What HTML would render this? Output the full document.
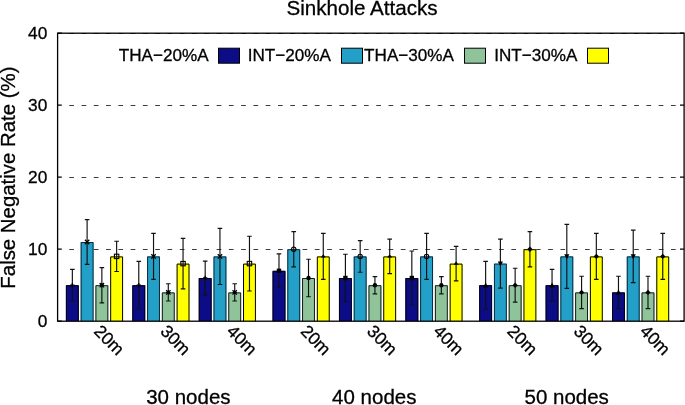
<!DOCTYPE html><html><head><meta charset="utf-8"><style>html,body{margin:0;padding:0;background:#fff;overflow:hidden}svg{display:block;will-change:transform}text{font-family:"Liberation Sans",sans-serif;fill:#000;stroke:#000;stroke-width:0.3px}</style></head><body>
<svg width="685" height="405" viewBox="0 0 685 405">
<line x1="66" y1="249.45" x2="681" y2="249.45" stroke="#3c3c3c" stroke-width="1.1" stroke-dasharray="4.7 7.58" stroke-dashoffset="-3.25"/>
<line x1="66" y1="177.45" x2="681" y2="177.45" stroke="#3c3c3c" stroke-width="1.1" stroke-dasharray="4.7 7.58" stroke-dashoffset="-3.25"/>
<line x1="66" y1="105.45" x2="681" y2="105.45" stroke="#3c3c3c" stroke-width="1.1" stroke-dasharray="4.7 7.58" stroke-dashoffset="-3.25"/>
<line x1="66" y1="33.45" x2="681" y2="33.45" stroke="#3c3c3c" stroke-width="1.1" stroke-dasharray="4.7 7.58" stroke-dashoffset="-3.25"/>
<rect x="65.90" y="285.20" width="12.90" height="36.00" fill="#0c0c86"/>
<path d="M66.40,321.20V285.70H78.30V321.20" fill="none" stroke="#000010" stroke-width="1"/>
<rect x="80.66" y="242.00" width="12.90" height="79.20" fill="#22a0c8"/>
<path d="M81.16,321.20V242.50H93.06V321.20" fill="none" stroke="#102a3a" stroke-width="1"/>
<rect x="95.42" y="285.20" width="12.90" height="36.00" fill="#8fc49b"/>
<path d="M95.92,321.20V285.70H107.82V321.20" fill="none" stroke="#1a1a1a" stroke-width="1"/>
<rect x="110.18" y="256.40" width="12.90" height="64.80" fill="#ffff00"/>
<path d="M110.68,321.20V256.90H122.58V321.20" fill="none" stroke="#000000" stroke-width="1"/>
<rect x="132.32" y="285.20" width="12.90" height="36.00" fill="#0c0c86"/>
<path d="M132.82,321.20V285.70H144.72V321.20" fill="none" stroke="#000010" stroke-width="1"/>
<rect x="147.08" y="256.40" width="12.90" height="64.80" fill="#22a0c8"/>
<path d="M147.58,321.20V256.90H159.48V321.20" fill="none" stroke="#102a3a" stroke-width="1"/>
<rect x="161.84" y="292.40" width="12.90" height="28.80" fill="#8fc49b"/>
<path d="M162.34,321.20V292.90H174.24V321.20" fill="none" stroke="#1a1a1a" stroke-width="1"/>
<rect x="176.60" y="263.60" width="12.90" height="57.60" fill="#ffff00"/>
<path d="M177.10,321.20V264.10H189.00V321.20" fill="none" stroke="#000000" stroke-width="1"/>
<rect x="198.74" y="278.00" width="12.90" height="43.20" fill="#0c0c86"/>
<path d="M199.24,321.20V278.50H211.14V321.20" fill="none" stroke="#000010" stroke-width="1"/>
<rect x="213.50" y="256.40" width="12.90" height="64.80" fill="#22a0c8"/>
<path d="M214.00,321.20V256.90H225.90V321.20" fill="none" stroke="#102a3a" stroke-width="1"/>
<rect x="228.26" y="292.40" width="12.90" height="28.80" fill="#8fc49b"/>
<path d="M228.76,321.20V292.90H240.66V321.20" fill="none" stroke="#1a1a1a" stroke-width="1"/>
<rect x="243.02" y="263.60" width="12.90" height="57.60" fill="#ffff00"/>
<path d="M243.52,321.20V264.10H255.42V321.20" fill="none" stroke="#000000" stroke-width="1"/>
<rect x="272.54" y="270.80" width="12.90" height="50.40" fill="#0c0c86"/>
<path d="M273.04,321.20V271.30H284.94V321.20" fill="none" stroke="#000010" stroke-width="1"/>
<rect x="287.30" y="249.20" width="12.90" height="72.00" fill="#22a0c8"/>
<path d="M287.80,321.20V249.70H299.70V321.20" fill="none" stroke="#102a3a" stroke-width="1"/>
<rect x="302.06" y="278.00" width="12.90" height="43.20" fill="#8fc49b"/>
<path d="M302.56,321.20V278.50H314.46V321.20" fill="none" stroke="#1a1a1a" stroke-width="1"/>
<rect x="316.82" y="256.40" width="12.90" height="64.80" fill="#ffff00"/>
<path d="M317.32,321.20V256.90H329.22V321.20" fill="none" stroke="#000000" stroke-width="1"/>
<rect x="338.96" y="278.00" width="12.90" height="43.20" fill="#0c0c86"/>
<path d="M339.46,321.20V278.50H351.36V321.20" fill="none" stroke="#000010" stroke-width="1"/>
<rect x="353.72" y="256.40" width="12.90" height="64.80" fill="#22a0c8"/>
<path d="M354.22,321.20V256.90H366.12V321.20" fill="none" stroke="#102a3a" stroke-width="1"/>
<rect x="368.48" y="285.20" width="12.90" height="36.00" fill="#8fc49b"/>
<path d="M368.98,321.20V285.70H380.88V321.20" fill="none" stroke="#1a1a1a" stroke-width="1"/>
<rect x="383.24" y="256.40" width="12.90" height="64.80" fill="#ffff00"/>
<path d="M383.74,321.20V256.90H395.64V321.20" fill="none" stroke="#000000" stroke-width="1"/>
<rect x="405.38" y="278.00" width="12.90" height="43.20" fill="#0c0c86"/>
<path d="M405.88,321.20V278.50H417.78V321.20" fill="none" stroke="#000010" stroke-width="1"/>
<rect x="420.14" y="256.40" width="12.90" height="64.80" fill="#22a0c8"/>
<path d="M420.64,321.20V256.90H432.54V321.20" fill="none" stroke="#102a3a" stroke-width="1"/>
<rect x="434.90" y="285.20" width="12.90" height="36.00" fill="#8fc49b"/>
<path d="M435.40,321.20V285.70H447.30V321.20" fill="none" stroke="#1a1a1a" stroke-width="1"/>
<rect x="449.66" y="263.60" width="12.90" height="57.60" fill="#ffff00"/>
<path d="M450.16,321.20V264.10H462.06V321.20" fill="none" stroke="#000000" stroke-width="1"/>
<rect x="479.18" y="285.20" width="12.90" height="36.00" fill="#0c0c86"/>
<path d="M479.68,321.20V285.70H491.58V321.20" fill="none" stroke="#000010" stroke-width="1"/>
<rect x="493.94" y="263.60" width="12.90" height="57.60" fill="#22a0c8"/>
<path d="M494.44,321.20V264.10H506.34V321.20" fill="none" stroke="#102a3a" stroke-width="1"/>
<rect x="508.70" y="285.20" width="12.90" height="36.00" fill="#8fc49b"/>
<path d="M509.20,321.20V285.70H521.10V321.20" fill="none" stroke="#1a1a1a" stroke-width="1"/>
<rect x="523.46" y="249.20" width="12.90" height="72.00" fill="#ffff00"/>
<path d="M523.96,321.20V249.70H535.86V321.20" fill="none" stroke="#000000" stroke-width="1"/>
<rect x="545.60" y="285.20" width="12.90" height="36.00" fill="#0c0c86"/>
<path d="M546.10,321.20V285.70H558.00V321.20" fill="none" stroke="#000010" stroke-width="1"/>
<rect x="560.36" y="256.40" width="12.90" height="64.80" fill="#22a0c8"/>
<path d="M560.86,321.20V256.90H572.76V321.20" fill="none" stroke="#102a3a" stroke-width="1"/>
<rect x="575.12" y="292.40" width="12.90" height="28.80" fill="#8fc49b"/>
<path d="M575.62,321.20V292.90H587.52V321.20" fill="none" stroke="#1a1a1a" stroke-width="1"/>
<rect x="589.88" y="256.40" width="12.90" height="64.80" fill="#ffff00"/>
<path d="M590.38,321.20V256.90H602.28V321.20" fill="none" stroke="#000000" stroke-width="1"/>
<rect x="612.02" y="292.40" width="12.90" height="28.80" fill="#0c0c86"/>
<path d="M612.52,321.20V292.90H624.42V321.20" fill="none" stroke="#000010" stroke-width="1"/>
<rect x="626.78" y="256.40" width="12.90" height="64.80" fill="#22a0c8"/>
<path d="M627.28,321.20V256.90H639.18V321.20" fill="none" stroke="#102a3a" stroke-width="1"/>
<rect x="641.54" y="292.40" width="12.90" height="28.80" fill="#8fc49b"/>
<path d="M642.04,321.20V292.90H653.94V321.20" fill="none" stroke="#1a1a1a" stroke-width="1"/>
<rect x="656.30" y="256.40" width="12.90" height="64.80" fill="#ffff00"/>
<path d="M656.80,321.20V256.90H668.70V321.20" fill="none" stroke="#000000" stroke-width="1"/>
<path d="M72.35,269.36V301.04M70.05,269.36H74.65M70.05,301.04H74.65" stroke="#111" stroke-width="1.15" fill="none"/>
<path d="M70.15,285.2H74.55000000000001M72.35000000000001,283.0V287.4" stroke="#000" stroke-width="1.3" fill="none"/>
<path d="M87.11,219.68V264.32M84.81,219.68H89.41M84.81,264.32H89.41" stroke="#111" stroke-width="1.15" fill="none"/>
<path d="M84.91000000000001,239.8L89.31000000000002,244.2M84.91000000000001,244.2L89.31000000000002,239.8" stroke="#000" stroke-width="1.3" fill="none"/>
<path d="M101.87,267.56V302.84M99.57,267.56H104.17M99.57,302.84H104.17" stroke="#111" stroke-width="1.15" fill="none"/>
<path d="M99.67,285.2H104.07000000000001M101.87,283.0V287.4M99.67,283.0L104.07000000000001,287.4M99.67,287.4L104.07000000000001,283.0" stroke="#000" stroke-width="1.2" fill="none"/>
<path d="M116.63,241.28V271.52M114.33,241.28H118.93M114.33,271.52H118.93" stroke="#111" stroke-width="1.15" fill="none"/>
<rect x="114.43" y="254.2" width="4.4" height="4.4" stroke="#000" stroke-width="1.1" fill="none"/>
<path d="M138.77,261.44V308.96M136.47,261.44H141.07M136.47,308.96H141.07" stroke="#111" stroke-width="1.15" fill="none"/>
<path d="M136.57,285.2H140.96999999999997M138.76999999999998,283.0V287.4" stroke="#000" stroke-width="1.3" fill="none"/>
<path d="M153.53,233.36V279.44M151.23,233.36H155.83M151.23,279.44H155.83" stroke="#111" stroke-width="1.15" fill="none"/>
<path d="M151.32999999999998,254.2L155.72999999999996,258.59999999999997M151.32999999999998,258.59999999999997L155.72999999999996,254.2" stroke="#000" stroke-width="1.3" fill="none"/>
<path d="M168.29,283.76V301.04M165.99,283.76H170.59M165.99,301.04H170.59" stroke="#111" stroke-width="1.15" fill="none"/>
<path d="M166.09,292.4H170.48999999999998M168.29,290.2V294.59999999999997M166.09,290.2L170.48999999999998,294.59999999999997M166.09,294.59999999999997L170.48999999999998,290.2" stroke="#000" stroke-width="1.2" fill="none"/>
<path d="M183.05,238.40V288.80M180.75,238.40H185.35M180.75,288.80H185.35" stroke="#111" stroke-width="1.15" fill="none"/>
<rect x="180.85000000000002" y="261.4" width="4.4" height="4.4" stroke="#000" stroke-width="1.1" fill="none"/>
<path d="M205.19,261.08V294.92M202.89,261.08H207.49M202.89,294.92H207.49" stroke="#111" stroke-width="1.15" fill="none"/>
<path d="M202.99,278.0H207.39M205.19,275.8V280.2" stroke="#000" stroke-width="1.3" fill="none"/>
<path d="M219.95,228.32V284.48M217.65,228.32H222.25M217.65,284.48H222.25" stroke="#111" stroke-width="1.15" fill="none"/>
<path d="M217.75,254.2L222.14999999999998,258.59999999999997M217.75,258.59999999999997L222.14999999999998,254.2" stroke="#000" stroke-width="1.3" fill="none"/>
<path d="M234.71,283.76V301.04M232.41,283.76H237.01M232.41,301.04H237.01" stroke="#111" stroke-width="1.15" fill="none"/>
<path d="M232.51,292.4H236.90999999999997M234.70999999999998,290.2V294.59999999999997M232.51,290.2L236.90999999999997,294.59999999999997M232.51,294.59999999999997L236.90999999999997,290.2" stroke="#000" stroke-width="1.2" fill="none"/>
<path d="M249.47,236.24V290.96M247.17,236.24H251.77M247.17,290.96H251.77" stroke="#111" stroke-width="1.15" fill="none"/>
<rect x="247.27" y="261.4" width="4.4" height="4.4" stroke="#000" stroke-width="1.1" fill="none"/>
<path d="M278.99,253.88V287.72M276.69,253.88H281.29M276.69,287.72H281.29" stroke="#111" stroke-width="1.15" fill="none"/>
<rect x="276.78999999999996" y="268.6" width="4.4" height="4.4" fill="#000"/>
<path d="M293.75,231.56V266.84M291.45,231.56H296.05M291.45,266.84H296.05" stroke="#111" stroke-width="1.15" fill="none"/>
<circle cx="293.75" cy="249.2" r="2.2" stroke="#000" stroke-width="1.1" fill="none"/>
<path d="M308.51,259.28V296.72M306.21,259.28H310.81M306.21,296.72H310.81" stroke="#111" stroke-width="1.15" fill="none"/>
<circle cx="308.51" cy="278.0" r="2.2" fill="#000"/>
<path d="M323.27,233.36V279.44M320.97,233.36H325.57M320.97,279.44H325.57" stroke="#111" stroke-width="1.15" fill="none"/>
<path d="M323.27,254.29999999999998L325.77,257.59999999999997L320.77,257.59999999999997Z" fill="#000"/>
<path d="M345.41,254.24V301.76M343.11,254.24H347.71M343.11,301.76H347.71" stroke="#111" stroke-width="1.15" fill="none"/>
<rect x="343.21000000000004" y="275.8" width="4.4" height="4.4" fill="#000"/>
<path d="M360.17,240.56V272.24M357.87,240.56H362.47M357.87,272.24H362.47" stroke="#111" stroke-width="1.15" fill="none"/>
<circle cx="360.17" cy="256.4" r="2.2" stroke="#000" stroke-width="1.1" fill="none"/>
<path d="M374.93,276.56V293.84M372.63,276.56H377.23M372.63,293.84H377.23" stroke="#111" stroke-width="1.15" fill="none"/>
<circle cx="374.93" cy="285.2" r="2.2" fill="#000"/>
<path d="M389.69,239.12V273.68M387.39,239.12H391.99M387.39,273.68H391.99" stroke="#111" stroke-width="1.15" fill="none"/>
<path d="M389.69,254.29999999999998L392.19,257.59999999999997L387.19,257.59999999999997Z" fill="#000"/>
<path d="M411.83,251.00V305.00M409.53,251.00H414.13M409.53,305.00H414.13" stroke="#111" stroke-width="1.15" fill="none"/>
<rect x="409.63" y="275.8" width="4.4" height="4.4" fill="#000"/>
<path d="M426.59,233.36V279.44M424.29,233.36H428.89M424.29,279.44H428.89" stroke="#111" stroke-width="1.15" fill="none"/>
<circle cx="426.59" cy="256.4" r="2.2" stroke="#000" stroke-width="1.1" fill="none"/>
<path d="M441.35,276.56V293.84M439.05,276.56H443.65M439.05,293.84H443.65" stroke="#111" stroke-width="1.15" fill="none"/>
<circle cx="441.34999999999997" cy="285.2" r="2.2" fill="#000"/>
<path d="M456.11,246.32V280.88M453.81,246.32H458.41M453.81,280.88H458.41" stroke="#111" stroke-width="1.15" fill="none"/>
<path d="M456.10999999999996,261.49999999999994L458.60999999999996,264.79999999999995L453.60999999999996,264.79999999999995Z" fill="#000"/>
<path d="M485.63,261.44V308.96M483.33,261.44H487.93M483.33,308.96H487.93" stroke="#111" stroke-width="1.15" fill="none"/>
<path d="M485.62999999999994,282.4L488.2299999999999,287.4L483.03,287.4Z" fill="#000"/>
<path d="M500.39,239.12V288.08M498.09,239.12H502.69M498.09,288.08H502.69" stroke="#111" stroke-width="1.15" fill="none"/>
<path d="M500.39000000000004,266.4L502.99,261.4L497.7900000000001,261.4Z" fill="#000"/>
<path d="M515.15,268.28V302.12M512.85,268.28H517.45M512.85,302.12H517.45" stroke="#111" stroke-width="1.15" fill="none"/>
<path d="M515.1500000000001,282.5L517.8500000000001,285.2L515.1500000000001,287.9L512.45,285.2Z" fill="#000"/>
<path d="M529.91,231.56V266.84M527.61,231.56H532.21M527.61,266.84H532.21" stroke="#111" stroke-width="1.15" fill="none"/>
<path d="M529.9100000000001,246.5L532.6100000000001,249.2L529.9100000000001,251.89999999999998L527.21,249.2Z" fill="#000"/>
<path d="M552.05,269.36V301.04M549.75,269.36H554.35M549.75,301.04H554.35" stroke="#111" stroke-width="1.15" fill="none"/>
<path d="M552.0500000000001,282.4L554.6500000000001,287.4L549.45,287.4Z" fill="#000"/>
<path d="M566.81,224.36V288.44M564.51,224.36H569.11M564.51,288.44H569.11" stroke="#111" stroke-width="1.15" fill="none"/>
<path d="M566.8100000000001,259.2L569.4100000000001,254.2L564.21,254.2Z" fill="#000"/>
<path d="M581.57,276.20V308.60M579.27,276.20H583.87M579.27,308.60H583.87" stroke="#111" stroke-width="1.15" fill="none"/>
<path d="M581.57,289.7L584.2700000000001,292.4L581.57,295.09999999999997L578.87,292.4Z" fill="#000"/>
<path d="M596.33,233.36V279.44M594.03,233.36H598.63M594.03,279.44H598.63" stroke="#111" stroke-width="1.15" fill="none"/>
<path d="M596.33,253.7L599.0300000000001,256.4L596.33,259.09999999999997L593.63,256.4Z" fill="#000"/>
<path d="M618.47,276.20V308.60M616.17,276.20H620.77M616.17,308.60H620.77" stroke="#111" stroke-width="1.15" fill="none"/>
<path d="M618.47,289.59999999999997L621.07,294.59999999999997L615.87,294.59999999999997Z" fill="#000"/>
<path d="M633.23,230.12V282.68M630.93,230.12H635.53M630.93,282.68H635.53" stroke="#111" stroke-width="1.15" fill="none"/>
<path d="M633.23,259.2L635.83,254.2L630.63,254.2Z" fill="#000"/>
<path d="M647.99,276.20V308.60M645.69,276.20H650.29M645.69,308.60H650.29" stroke="#111" stroke-width="1.15" fill="none"/>
<path d="M647.99,289.7L650.69,292.4L647.99,295.09999999999997L645.29,292.4Z" fill="#000"/>
<path d="M662.75,233.36V279.44M660.45,233.36H665.05M660.45,279.44H665.05" stroke="#111" stroke-width="1.15" fill="none"/>
<path d="M662.75,253.7L665.45,256.4L662.75,259.09999999999997L660.05,256.4Z" fill="#000"/>
<rect x="57.6" y="33.20" width="626.50" height="288.00" fill="none" stroke="#000" stroke-width="1.3"/>
<path d="M57.6,321.20H61.8M680,321.20H684.1" stroke="#000" stroke-width="1.3"/>
<text x="47.3" y="327.40" font-size="17.3" text-anchor="end">0</text>
<path d="M57.6,249.20H61.8M680,249.20H684.1" stroke="#000" stroke-width="1.3"/>
<text x="47.3" y="255.40" font-size="17.3" text-anchor="end">10</text>
<path d="M57.6,177.20H61.8M680,177.20H684.1" stroke="#000" stroke-width="1.3"/>
<text x="47.3" y="183.40" font-size="17.3" text-anchor="end">20</text>
<path d="M57.6,105.20H61.8M680,105.20H684.1" stroke="#000" stroke-width="1.3"/>
<text x="47.3" y="111.40" font-size="17.3" text-anchor="end">30</text>
<path d="M57.6,33.20H61.8M680,33.20H684.1" stroke="#000" stroke-width="1.3"/>
<text x="47.3" y="39.40" font-size="17.3" text-anchor="end">40</text>
<text transform="translate(92.99,332.30) rotate(45)" font-size="17.4">20m</text>
<text transform="translate(159.41,332.30) rotate(45)" font-size="17.4">30m</text>
<text transform="translate(225.83,332.30) rotate(45)" font-size="17.4">40m</text>
<text transform="translate(299.63,332.30) rotate(45)" font-size="17.4">20m</text>
<text transform="translate(366.05,332.30) rotate(45)" font-size="17.4">30m</text>
<text transform="translate(432.47,332.30) rotate(45)" font-size="17.4">40m</text>
<text transform="translate(506.27,332.30) rotate(45)" font-size="17.4">20m</text>
<text transform="translate(572.69,332.30) rotate(45)" font-size="17.4">30m</text>
<text transform="translate(639.11,332.30) rotate(45)" font-size="17.4">40m</text>
<text x="146.20000000000002" y="404.4" font-size="20.5">30 nodes</text>
<text x="332.09999999999997" y="404.4" font-size="20.5">40 nodes</text>
<text x="524.5" y="404.4" font-size="20.5">50 nodes</text>
<text x="362" y="15.3" font-size="20.6" text-anchor="middle">Sinkhole Attacks</text>
<text transform="translate(15.2,177.6) rotate(-90)" font-size="20.4" text-anchor="middle">False Negative Rate (%)</text>
<text x="208.60" y="61.3" font-size="17.1" text-anchor="end">THA−20%A</text>
<rect x="218.50" y="48.2" width="21" height="15" fill="#0c0c86" stroke="#000" stroke-width="1"/>
<text x="330.90" y="61.3" font-size="17.1" text-anchor="end">INT−20%A</text>
<rect x="341.50" y="48.2" width="21" height="15" fill="#22a0c8" stroke="#000" stroke-width="1"/>
<text x="453.90" y="61.3" font-size="17.1" text-anchor="end">THA−30%A</text>
<rect x="464.50" y="48.2" width="21" height="15" fill="#8fc49b" stroke="#000" stroke-width="1"/>
<text x="577.40" y="61.3" font-size="17.1" text-anchor="end">INT−30%A</text>
<rect x="587.50" y="48.2" width="21" height="15" fill="#ffff00" stroke="#000" stroke-width="1"/>
</svg></body></html>
